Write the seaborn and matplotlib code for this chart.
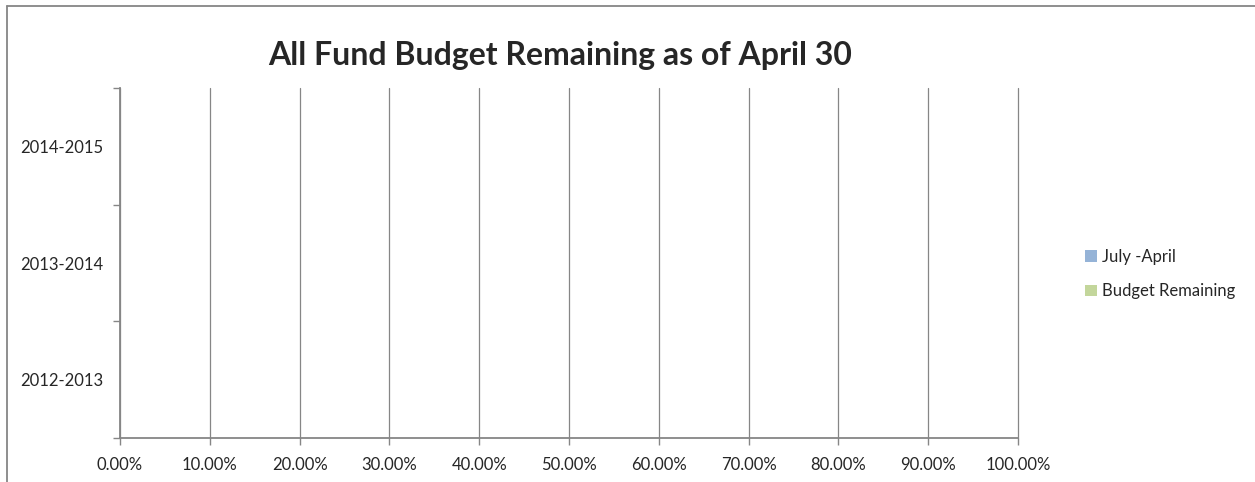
import pandas as pd
import numpy as np
import matplotlib.pyplot as plt
import seaborn as sns
from matplotlib.ticker import PercentFormatter, FixedLocator
from matplotlib.lines import Line2D
from matplotlib.patches import Patch

years = ["2014-2015", "2013-2014", "2012-2013"]
series_names = ["July -April", "Budget Remaining"]
july_april = [0.0, 0.0, 0.0]
budget_remaining = [0.0, 0.0, 0.0]
colors = ["#95B3D7", "#C3D69B"]

df = pd.DataFrame({
    "year": years * 2,
    "series": [series_names[0]] * 3 + [series_names[1]] * 3,
    "share": july_april + budget_remaining,
})

sns.set_style("white")
plt.rcParams['font.family'] = ['Lato', 'DejaVu Sans']
grey = "#868686"

fig = plt.figure(figsize=(12.55, 4.82), dpi=100)
ax = fig.add_axes([120 / 1255, 1 - 438 / 482, 898 / 1255, 350 / 482])

sns.barplot(data=df, x="share", y="year", hue="series", order=years,
            hue_order=series_names, palette=colors, orient="h", dodge=False,
            linewidth=0, ax=ax)

ax.set_xlim(0, 1)
ax.set_ylim(2.5, -0.5)
ax.set_xticks(np.arange(0, 1.01, 0.1))
ax.xaxis.set_major_formatter(PercentFormatter(xmax=1, decimals=2))
ax.yaxis.set_minor_locator(FixedLocator([-0.5, 0.5, 1.5, 2.5]))
ax.tick_params(axis="y", which="major", left=True, length=0, pad=12, labelsize=12)
ax.tick_params(axis="y", which="minor", left=True, length=5, color=grey, width=1)
ax.tick_params(axis="x", bottom=True, length=5, color=grey, width=1, labelsize=12,
               pad=9, direction="out")
ax.grid(axis="x", color=grey, linewidth=0.9)
for gl in ax.get_xgridlines():
    gl.set_clip_on(False)
ax.set_axisbelow(True)
for side in ["top", "right"]:
    ax.spines[side].set_visible(False)
for side in ["left", "bottom"]:
    ax.spines[side].set_color(grey)
    ax.spines[side].set_linewidth(1.3)
ax.set_xlabel("")
ax.set_ylabel("")

handles = [Patch(facecolor=c, edgecolor="none") for c in colors]
ax.legend(handles, series_names, loc="upper left",
          bbox_to_anchor=(1085 / 1255, 1 - 249 / 482),
          bbox_transform=fig.transFigure, frameon=False, fontsize=12,
          handlelength=0.7, handleheight=0.7, handletextpad=0.35,
          labelspacing=1.1, borderpad=0, borderaxespad=0)

fig.text(560 / 1255, 1 - 55 / 482, "All Fund Budget Remaining as of April 30",
         ha="center", va="center", fontsize=23, fontweight="bold")

# outer chart border (top and left edges visible)
fig.add_artist(Line2D([7 / 1255, 1.0], [1 - 6 / 482, 1 - 6 / 482],
                      transform=fig.transFigure, color=grey, linewidth=1.3))
fig.add_artist(Line2D([7 / 1255, 7 / 1255], [0.0, 1 - 6 / 482],
                      transform=fig.transFigure, color=grey, linewidth=1.3))

fig.savefig("out.png", dpi=100)
